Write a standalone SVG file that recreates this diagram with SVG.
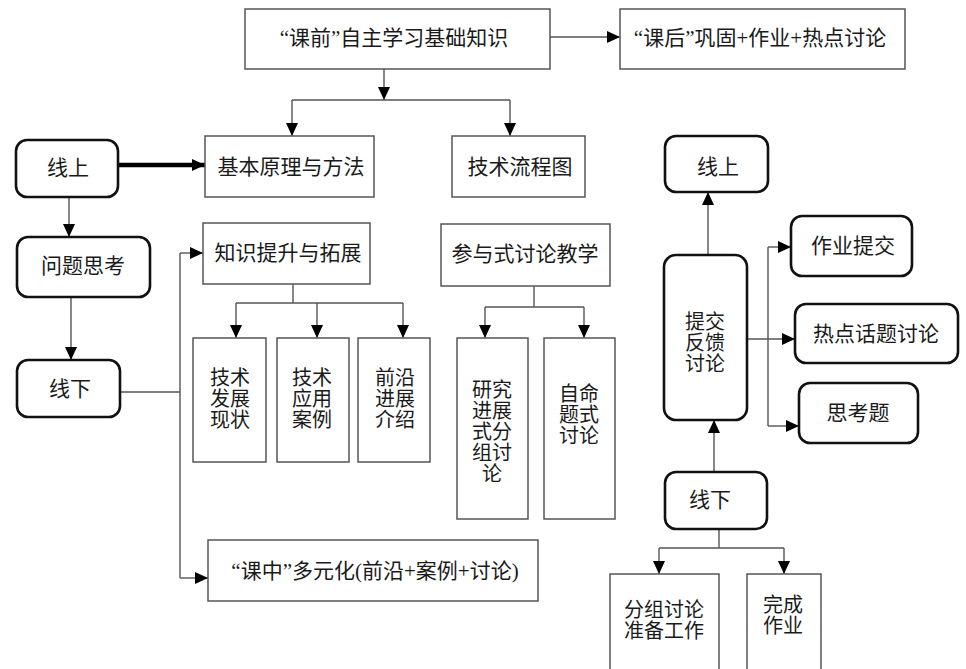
<svg xmlns="http://www.w3.org/2000/svg" width="966" height="669" viewBox="0 0 966 669">
<defs>
<marker id="arr" markerUnits="userSpaceOnUse" markerWidth="13" markerHeight="12" refX="13" refY="6" orient="auto"><path d="M0,0 L13,6 L0,12 z" fill="#000"/></marker>
<style>
.box{fill:#fff;stroke:#555;stroke-width:1.5}
.rbox{fill:#fff;stroke:#111;stroke-width:2.6}
.t{font-family:"Liberation Serif","Noto Sans CJK SC",serif;font-size:21px;fill:#1a1a1a;text-anchor:middle;dominant-baseline:central}
.s{font-size:20px}
.c{fill:none;stroke:#555;stroke-width:1.4}
.ca{fill:none;stroke:#555;stroke-width:1.4;marker-end:url(#arr)}
</style>
</defs>
<rect width="966" height="669" fill="#fff"/>
<g id="connectors">
<path class="ca" d="M550,37 H620"/>
<path class="ca" d="M384,69 V100"/>
<path class="c" d="M292,100 H510"/>
<path class="ca" d="M292,100 V136"/>
<path class="ca" d="M510,100 V136"/>
<path d="M118,165 H205" fill="none" stroke="#000" stroke-width="4.5" marker-end="url(#arr)"/>
<path class="ca" d="M69,197 V237"/>
<path class="ca" d="M71,297 V360"/>
<path class="c" d="M120,392 H180"/>
<path class="c" d="M180,253 V578"/>
<path class="ca" d="M180,253 H203"/>
<path class="ca" d="M180,578 H208"/>
<path class="c" d="M293,284 V303"/>
<path class="c" d="M236,303 H403"/>
<path class="ca" d="M236,303 V338"/>
<path class="ca" d="M317,303 V338"/>
<path class="ca" d="M403,303 V338"/>
<path class="c" d="M534,286 V307"/>
<path class="c" d="M485,307 H584"/>
<path class="ca" d="M485,307 V338"/>
<path class="ca" d="M584,307 V338"/>
<path class="ca" d="M708,255 V192"/>
<path class="ca" d="M714,472 V420"/>
<path class="ca" d="M747,339 H795"/>
<path class="c" d="M768,247 V426"/>
<path class="ca" d="M768,247 H791"/>
<path class="ca" d="M768,426 H799"/>
<path class="c" d="M719,529 V548"/>
<path class="c" d="M659,548 H784"/>
<path class="ca" d="M659,548 V574"/>
<path class="ca" d="M784,548 V574"/>
</g>
<g id="n-kqian"><rect class="box" x="245" y="9" width="305" height="60"/><text class="t" x="394" y="38">“课前”自主学习基础知识</text></g>
<g id="n-khou"><rect class="box" x="620" y="9" width="285" height="60"/><text class="t" x="760" y="38">“课后”巩固+作业+热点讨论</text></g>
<g id="n-jbyl"><rect class="box" x="205" y="136" width="169" height="61"/><text class="t" x="291" y="167">基本原理与方法</text></g>
<g id="n-jslct"><rect class="box" x="452" y="136" width="133" height="61"/><text class="t" x="520" y="167">技术流程图</text></g>
<g id="n-xs1"><rect class="rbox" x="16" y="140" width="102" height="57" rx="11"/><text class="t" x="68" y="168">线上</text></g>
<g id="n-wtsk"><rect class="rbox" x="17" y="237" width="133" height="60" rx="11"/><text class="t" x="83" y="266">问题思考</text></g>
<g id="n-xx1"><rect class="rbox" x="17" y="360" width="103" height="57" rx="11"/><text class="t" x="70" y="389">线下</text></g>
<g id="n-zsts"><rect class="box" x="203" y="223" width="167" height="61"/><text class="t" x="288" y="253">知识提升与拓展</text></g>
<g id="n-cys"><rect class="box" x="441" y="224" width="169" height="62"/><text class="t" x="525" y="254">参与式讨论教学</text></g>
<g id="n-jsfz"><rect class="box" x="193" y="338" width="73" height="124"/><text class="t s" x="230" y="378">技术</text><text class="t s" x="230" y="399">发展</text><text class="t s" x="230" y="420">现状</text></g>
<g id="n-jsyy"><rect class="box" x="277" y="338" width="72" height="124"/><text class="t s" x="312" y="378">技术</text><text class="t s" x="312" y="399">应用</text><text class="t s" x="312" y="420">案例</text></g>
<g id="n-qyjz"><rect class="box" x="358" y="338" width="72" height="124"/><text class="t s" x="395" y="378">前沿</text><text class="t s" x="395" y="399">进展</text><text class="t s" x="395" y="420">介绍</text></g>
<g id="n-yjjz"><rect class="box" x="457" y="338" width="71" height="181"/><text class="t s" x="492" y="390">研究</text><text class="t s" x="492" y="411">进展</text><text class="t s" x="492" y="432">式分</text><text class="t s" x="492" y="453">组讨</text><text class="t s" x="492" y="474">论</text></g>
<g id="n-zmt"><rect class="box" x="544" y="338" width="71" height="181"/><text class="t s" x="579" y="394">自命</text><text class="t s" x="579" y="415">题式</text><text class="t s" x="579" y="436">讨论</text></g>
<g id="n-kzhong"><rect class="box" x="208" y="540" width="330" height="61"/><text class="t" x="375" y="571">“课中”多元化(前沿+案例+讨论)</text></g>
<g id="n-xs2"><rect class="rbox" x="665" y="136" width="103" height="56" rx="11"/><text class="t" x="718" y="167">线上</text></g>
<g id="n-tjfk"><rect class="rbox" x="664" y="255" width="83" height="165" rx="12"/><text class="t s" x="705" y="322">提交</text><text class="t s" x="705" y="343">反馈</text><text class="t s" x="705" y="364">讨论</text></g>
<g id="n-zytj"><rect class="rbox" x="791" y="216" width="121" height="60" rx="11"/><text class="t" x="853" y="246">作业提交</text></g>
<g id="n-rdht"><rect class="rbox" x="795" y="304" width="163" height="59" rx="11"/><text class="t" x="876" y="334">热点话题讨论</text></g>
<g id="n-skt"><rect class="rbox" x="799" y="383" width="119" height="60" rx="11"/><text class="t" x="858" y="413">思考题</text></g>
<g id="n-xx2"><rect class="rbox" x="665" y="472" width="102" height="57" rx="11"/><text class="t" x="710" y="500">线下</text></g>
<g id="n-fztl"><rect class="box" x="610" y="574" width="109" height="110"/><text class="t s" x="664" y="610">分组讨论</text><text class="t s" x="664" y="631">准备工作</text></g>
<g id="n-wczy"><rect class="box" x="747" y="574" width="74" height="110"/><text class="t s" x="783" y="605">完成</text><text class="t s" x="783" y="626">作业</text></g>
</svg>
